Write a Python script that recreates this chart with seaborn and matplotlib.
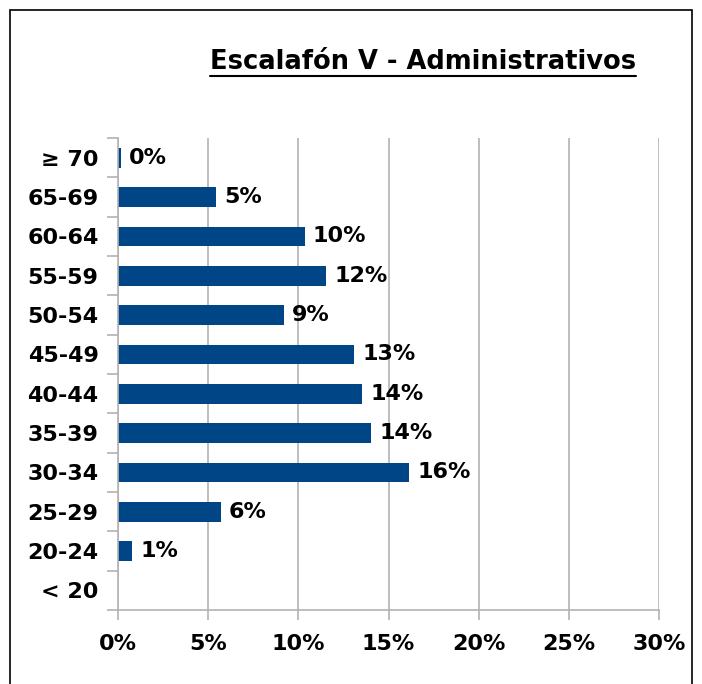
import matplotlib
matplotlib.use("Agg")
import matplotlib.pyplot as plt
import seaborn as sns
import pandas as pd
from matplotlib.patches import Rectangle
from matplotlib.lines import Line2D

categories = ["≥ 70", "65-69", "60-64", "55-59", "50-54", "45-49",
              "40-44", "35-39", "30-34", "25-29", "20-24", "< 20"]
values = [0.15, 5.45, 10.35, 11.55, 9.2, 13.1, 13.55, 14.05, 16.15, 5.7, 0.77, 0.0]
labels = ["0%", "5%", "10%", "12%", "9%", "13%", "14%", "14%", "16%", "6%", "1%", None]
xticks = [0, 5, 10, 15, 20, 25, 30]
title = "Escalafón V - Administrativos"

df = pd.DataFrame({"cat": categories, "val": values})

sns.set_theme(style="white")
plt.rcParams['font.family'] = ['DejaVu Sans']

W, H = 702, 684
FS = 16
fig = plt.figure(figsize=(W / 100, H / 100), dpi=100)
fig.patch.set_facecolor("white")
ax = fig.add_axes([118 / W, 1 - 610 / H, (659 - 118) / W, (610 - 138) / H])

sns.barplot(data=df, x="val", y="cat", order=categories, orient="h",
            color="#004586", saturation=1, width=0.5, linewidth=0, ax=ax)

ax.set_xlim(0, 30)
ax.set_ylim(len(categories) - 0.5, -0.5)
ax.set_xticks(xticks)
ax.set_xticklabels([f"{t}%" for t in xticks], fontsize=FS, fontweight="bold")
ax.set_yticks(range(len(categories)))
ax.set_yticklabels(categories, fontsize=FS, fontweight="bold")
ax.set_yticks([i - 0.5 for i in range(len(categories) + 1)], minor=True)
ax.tick_params(axis="y", which="major", length=0, pad=14, colors="black")
ax.tick_params(axis="y", which="minor", length=8, width=1.2, color="#b3b3b3", left=True)
ax.tick_params(axis="x", which="major", length=7, width=1.2, color="#b3b3b3",
               pad=10, labelcolor="black", bottom=True)
ax.set_xlabel("")
ax.set_ylabel("")
ax.grid(axis="x", color="#b3b3b3", linewidth=1.2)
ax.set_axisbelow(True)
for s in ["top", "right"]:
    ax.spines[s].set_visible(False)
for s in ["left", "bottom"]:
    ax.spines[s].set_color("#b3b3b3")
    ax.spines[s].set_linewidth(1.2)

for i, (v, lab) in enumerate(zip(values, labels)):
    if lab:
        ax.text(v + 0.45, i, lab, va="center", ha="left", fontsize=FS,
                fontweight="bold", color="black")

# title with underline
t = fig.text(423 / W, 1 - 62 / H, title, ha="center", va="center",
             fontsize=18.5, fontweight="bold", color="black")
fig.canvas.draw()
bb = t.get_window_extent(renderer=fig.canvas.get_renderer())
inv = fig.transFigure.inverted()
(x0, y0), (x1, y1) = inv.transform([[bb.x0, bb.y0], [bb.x1, bb.y1]])
fig.add_artist(Line2D([x0, x1], [1 - 76 / H, 1 - 76 / H], transform=fig.transFigure,
                      color="black", linewidth=1.5))

fig.add_artist(Rectangle((10 / W, -0.05), 682 / W, (H - 10) / H + 0.05,
                         transform=fig.transFigure, fill=False,
                         edgecolor="black", linewidth=1.2))

fig.savefig("out.png", dpi=100)
